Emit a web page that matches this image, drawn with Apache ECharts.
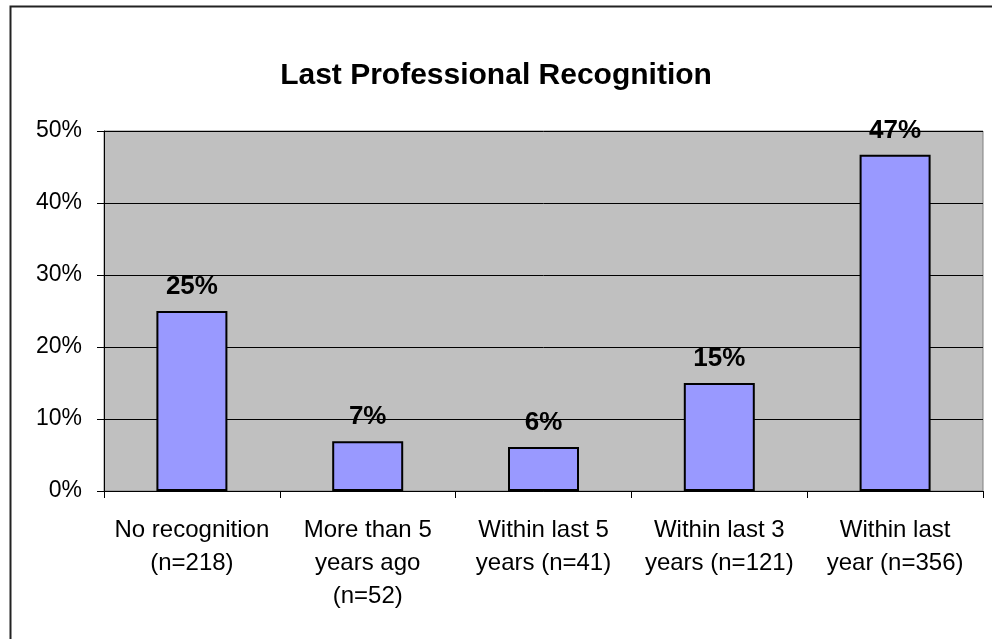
<!DOCTYPE html>
<html>
<head>
<meta charset="utf-8">
<script src="https://cdn.jsdelivr.net/npm/echarts@6/dist/echarts.min.js"></script>
<style>
html,body{margin:0;padding:0;background:#fff;}
#chart{width:992px;height:639px;}
</style>
</head>
<body>
<div id="chart"></div>
<script>
const titleText = 'Last Professional Recognition';
const categories = ['No recognition\n(n=218)', 'More than 5\nyears ago\n(n=52)', 'Within last 5\nyears (n=41)', 'Within last 3\nyears (n=121)', 'Within last\nyear (n=356)'];
const values = [25.0, 6.9, 6.1, 15.0, 46.7];
const yTicks = [0, 10, 20, 30, 40, 50];

const chart = echarts.init(document.getElementById('chart'), null, {renderer: 'canvas'});
const font = 'Arial, "Liberation Sans", sans-serif';
chart.setOption({
  animation: false,
  backgroundColor: '#ffffff',
  title: {
    text: titleText,
    left: 'center',
    top: 56,
    textStyle: {fontFamily: font, fontSize: 30, fontWeight: 'bold', color: '#000'}
  },
  graphic: [{
    type: 'rect', left: 8, top: 4, silent: true,
    shape: {width: 1100, height: 800},
    style: {fill: 'none', stroke: '#222', lineWidth: 2}
  }],
  grid: {
    left: 104, right: 9, top: 131, bottom: 148,
    show: true, backgroundColor: '#C0C0C0', borderColor: '#808080', borderWidth: 1
  },
  xAxis: {
    type: 'category',
    data: categories,
    axisLine: {lineStyle: {color: '#000', width: 1}},
    axisTick: {show: true, length: 7, lineStyle: {color: '#000'}},
    axisLabel: {fontFamily: font, fontSize: 24, color: '#000', lineHeight: 33, margin: 23, interval: 0}
  },
  yAxis: {
    type: 'value',
    min: yTicks[0], max: yTicks[yTicks.length - 1], interval: 10,
    axisLine: {show: true, lineStyle: {color: '#000', width: 1}},
    axisTick: {show: true, length: 7, lineStyle: {color: '#000'}},
    splitLine: {show: true, lineStyle: {color: '#000', width: 1}},
    axisLabel: {fontFamily: font, fontSize: 23, color: '#000', margin: 22, formatter: v => v + '%'}
  },
  series: [{
    type: 'bar',
    data: values,
    barWidth: 71,
    itemStyle: {color: '#9999FF', borderColor: '#000', borderWidth: 2},
    label: {
      show: true, position: 'top', distance: 11,
      fontFamily: font, fontSize: 26, fontWeight: 'bold', color: '#000',
      formatter: p => Math.round(p.value) + '%'
    }
  }]
});
</script>
</body>
</html>
